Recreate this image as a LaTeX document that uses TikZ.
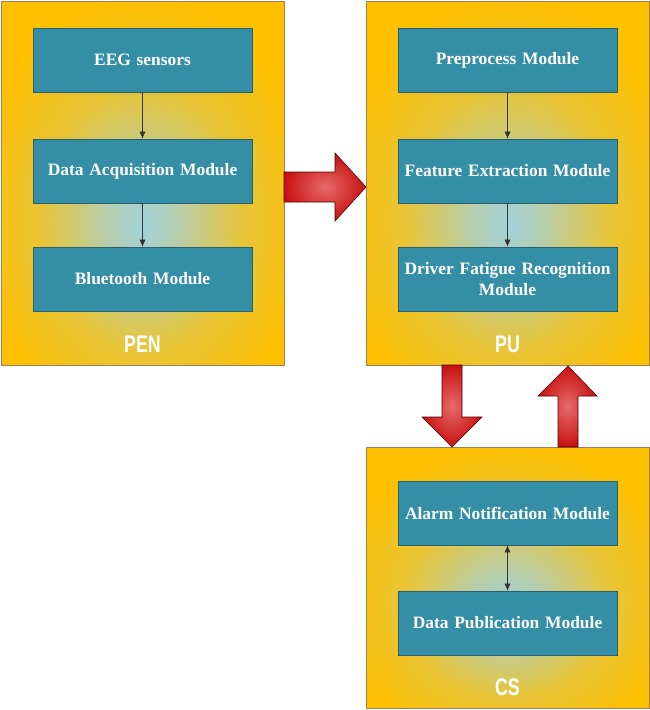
\documentclass[tikz,border=0pt]{standalone}
\usepackage{fontspec}
\setmainfont{Liberation Serif}
\newfontfamily\labfont[FakeStretch=0.74]{Liberation Sans}
\usetikzlibrary{calc,arrows.meta}
\definecolor{orng}{HTML}{FFC000}
\definecolor{cent}{HTML}{A2D2DC}
\definecolor{teal}{HTML}{338EA6}
\definecolor{tealb}{HTML}{2A5F6E}
\definecolor{obord}{HTML}{9A8060}
\definecolor{darkred}{HTML}{C00000}
\definecolor{lightred}{HTML}{E86A6A}
\pgfdeclareradialshading{glow}{\pgfpoint{0bp}{-6bp}}{color(0bp)=(cent); color(6bp)=(cent!80!orng); color(18bp)=(cent!25!orng); color(30bp)=(orng); color(100bp)=(orng)}
\pgfdeclareradialshading{redglow}{\pgfpoint{0bp}{0bp}}{color(0bp)=(lightred); color(30bp)=(darkred); color(100bp)=(darkred)}
\tikzset{
  x=1pt, y=-1pt,
  outerbox/.style={draw=obord, line width=0.8pt, shading=glow},
  modbox/.style={draw=tealb, line width=0.6pt, fill=teal, minimum width=219pt, minimum height=64pt, inner sep=2pt,
    text=white, font=\fontsize{17.4}{21.5}\selectfont\bfseries, align=center, text width=214pt},
  lab/.style={text=white, font=\labfont\bfseries\fontsize{24}{24}\selectfont},
  conn/.style={-{Latex[length=7pt,width=6pt]}, line width=0.5pt, draw=black!80},
  bconn/.style={{Latex[length=7pt,width=6pt]}-{Latex[length=7pt,width=6pt]}, line width=0.5pt, draw=black!80},
  blockarrow/.style={draw=black!55!darkred, line width=0.6pt, shading=redglow}
}
\begin{document}
\begin{tikzpicture}
\useasboundingbox (0,0) rectangle (650,710);
% outer boxes
\draw[outerbox] (1,1) rectangle (284,365);
\draw[outerbox] (366,1) rectangle (649,365);
\draw[outerbox] (366,447) rectangle (649,708);
\node[lab] (pen) at (142.5,344) {PEN};
\node[lab] (pu) at (507.5,344) {PU};
\node[lab] (cs) at (507.5,687) {CS};
% PEN modules
\node[modbox] (eeg) at (142.5,60) {EEG sensors};
\node[modbox] (daq) at (142.5,171) {Data Acquisition Module};
\node[modbox] (bt) at (142.5,279) {Bluetooth Module};
\draw[conn] (eeg.south) -- (daq.north);
\draw[conn] (daq.south) -- (bt.north);
% PU modules
\node[modbox] (pre) at (507.5,60) {Preprocess Module};
\node[modbox] (fe) at (507.5,171) {Feature Extraction Module};
\node[modbox] (dfr) at (507.5,279) {Driver Fatigue Recognition\\Module};
\draw[conn] (pre.south) -- (fe.north);
\draw[conn] (fe.south) -- (dfr.north);
% CS modules
\node[modbox] (alarm) at (507.5,513) {Alarm Notification Module};
\node[modbox] (pub) at (507.5,623) {Data Publication Module};
\draw[bconn] (alarm.south) -- (pub.north);
% block arrows
\draw[blockarrow] (284,172) -- (335,172) -- (335,153) -- (366,187) -- (335,221) -- (335,202) -- (284,202) -- cycle;
\draw[blockarrow] (442,365) -- (462,365) -- (462,417) -- (482,417) -- (452,447) -- (422,417) -- (442,417) -- cycle;
\draw[blockarrow] (558,447) -- (578,447) -- (578,396) -- (597,396) -- (568,366) -- (538,396) -- (558,396) -- cycle;
\end{tikzpicture}
\end{document}
